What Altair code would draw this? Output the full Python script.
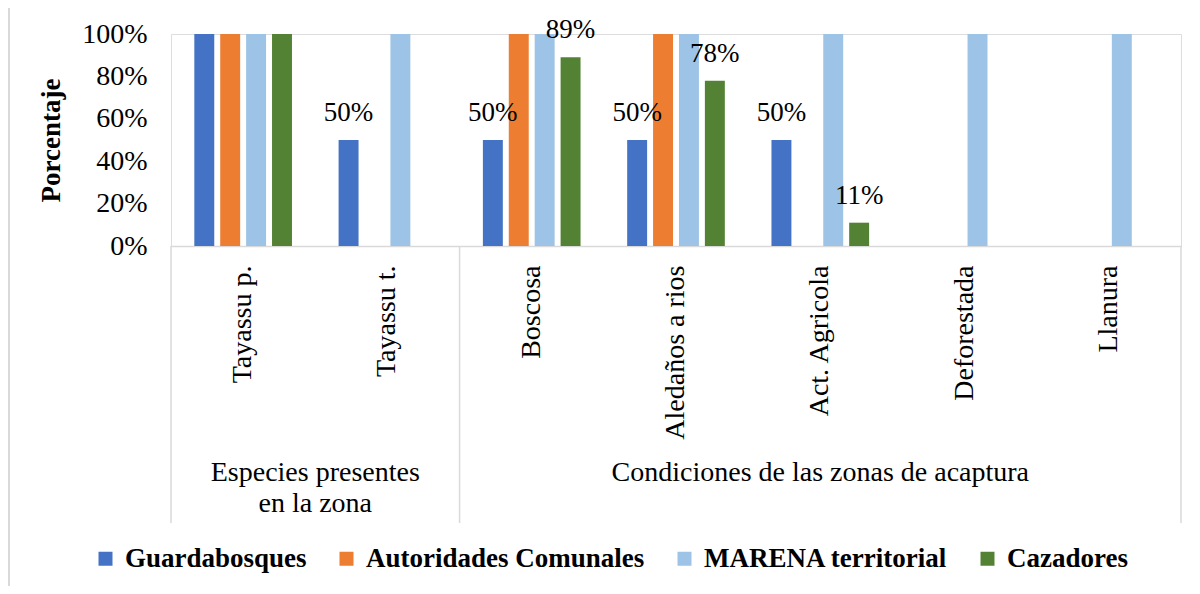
import altair as alt
import pandas as pd

categories = ["Tayassu p.", "Tayassu t.", "Boscosa", "Aledaños a rios",
              "Act. Agricola", "Deforestada", "Llanura"]
series = ["Guardabosques", "Autoridades Comunales", "MARENA territorial", "Cazadores"]
colors = ["#4472C4", "#ED7D31", "#9DC3E6", "#548235"]

guardabosques = [1.00, 0.50, 0.50, 0.50, 0.50, 0.00, 0.00]
autoridades = [1.00, 0.00, 1.00, 1.00, 0.00, 0.00, 0.00]
marena = [1.00, 1.00, 1.00, 1.00, 1.00, 1.00, 1.00]
cazadores = [1.00, 0.00, 0.89, 0.78, 0.11, 0.00, 0.00]

guard_labels = ["", "50%", "50%", "50%", "50%", "", ""]
autor_labels = ["", "", "", "", "", "", ""]
marena_labels = ["", "", "", "", "", "", ""]
caz_labels = ["", "", "89%", "78%", "11%", "", ""]

group1_name = "Especies presentes\nen la zona"
group1_cats = ["Tayassu p.", "Tayassu t."]
group2_name = "Condiciones de las zonas de acaptura"
group2_cats = ["Boscosa", "Aledaños a rios", "Act. Agricola", "Deforestada", "Llanura"]

FONT = "Liberation Serif"
W, H = 1010, 212

rows = []
for s, vals, labs in zip(series, [guardabosques, autoridades, marena, cazadores],
                         [guard_labels, autor_labels, marena_labels, caz_labels]):
    for c, v, l in zip(categories, vals, labs):
        rows.append({"cat": c, "series": s, "value": v, "label": l})
df = pd.DataFrame(rows)

xsort = categories
x_scale = alt.Scale(paddingInner=0, paddingOuter=0)
x_axis = alt.Axis(title=None, labelAngle=-90, labelAlign="right", labelBaseline="middle",
                  labelPadding=19, labelFontSize=28, labelFont=FONT, labelColor="#000000",
                  ticks=False, domainColor="#d9d9d9", domainWidth=1.5)

base = alt.Chart(df)

bars = base.mark_bar().encode(
    x=alt.X("cat:N", sort=xsort, scale=x_scale, axis=x_axis),
    xOffset=alt.XOffset("series:N", sort=series,
                        scale=alt.Scale(paddingInner=0.23, paddingOuter=0.9)),
    y=alt.Y("value:Q", scale=alt.Scale(domain=[0, 1], nice=False),
            axis=alt.Axis(values=[0, 0.2, 0.4, 0.6, 0.8, 1.0], format=".0%",
                          title="Porcentaje", titleFont=FONT, titleFontSize=27,
                          titleFontWeight="bold", titleColor="#000000", titlePadding=16,
                          labelFont=FONT, labelFontSize=28, labelColor="#000000",
                          labelPadding=24, domain=False, ticks=False, grid=False)),
    color=alt.Color("series:N", sort=series,
                    scale=alt.Scale(domain=series, range=colors),
                    legend=alt.Legend(title=None, orient="none", legendX=-79, legendY=511,
                                      direction="horizontal", columns=4,
                                      symbolType="square", symbolSize=196,
                                      symbolStrokeWidth=0, symbolOpacity=1,
                                      labelFont=FONT, labelFontSize=27,
                                      labelFontWeight="bold", labelColor="#000000",
                                      labelOffset=6, columnPadding=26, labelLimit=500)),
)

texts = base.transform_filter(alt.datum.label != "").mark_text(
    font=FONT, fontSize=27, color="#000000", baseline="alphabetic", dy=-19
).encode(
    x=alt.X("cat:N", sort=xsort),
    xOffset=alt.XOffset("series:N", sort=series),
    y=alt.Y("value:Q"),
    text="label:N",
)

# category box lines
left_rules = alt.Chart(pd.DataFrame({"cat": [group1_cats[0], group2_cats[0]]})).mark_rule(
    color="#d9d9d9", strokeWidth=1.5
).encode(
    x=alt.X("cat:N", sort=xsort, bandPosition=0),
    y=alt.value(H), y2=alt.value(H + 277),
)
right_rule = alt.Chart(pd.DataFrame({"cat": [group2_cats[-1]]})).mark_rule(
    color="#d9d9d9", strokeWidth=1.5
).encode(
    x=alt.X("cat:N", sort=xsort, bandPosition=1),
    y=alt.value(H), y2=alt.value(H + 277),
)

g1 = alt.Chart(pd.DataFrame({"cat": [group1_cats[len(group1_cats) // 2 - 1]],
                             "name": [group1_name]})).mark_text(
    font=FONT, fontSize=28, color="#000000", baseline="top", align="center",
    lineBreak="\n", lineHeight=31
).encode(
    x=alt.X("cat:N", sort=xsort, bandPosition=1),
    y=alt.value(H + 213),
    text="name:N",
)
g2 = alt.Chart(pd.DataFrame({"cat": [group2_cats[len(group2_cats) // 2]],
                             "name": [group2_name]})).mark_text(
    font=FONT, fontSize=28, color="#000000", baseline="top", align="center"
).encode(
    x=alt.X("cat:N", sort=xsort, bandPosition=0.5),
    y=alt.value(H + 213),
    text="name:N",
)

# outer frame: top and left edges only
frame_top = alt.Chart(pd.DataFrame({"a": [0]})).mark_rule(
    color="#d9d9d9", strokeWidth=2
).encode(
    x=alt.value(-163), x2=alt.value(W + 11),
    y=alt.value(-27),
)
frame_left = alt.Chart(pd.DataFrame({"a": [0]})).mark_rule(
    color="#d9d9d9", strokeWidth=2
).encode(
    x=alt.value(-162), y=alt.value(-27), y2=alt.value(H + 340),
)

chart = alt.layer(frame_top, frame_left, bars, texts, left_rules, right_rule, g1, g2).properties(
    width=W, height=H,
    autosize=alt.AutoSizeParams(type="none"),
    padding={"left": 163, "top": 26, "right": 11, "bottom": 340},
).configure_view(stroke=None).configure(background="#ffffff")

chart.save("out.html", embed_options={"renderer": "svg", "actions": False})
